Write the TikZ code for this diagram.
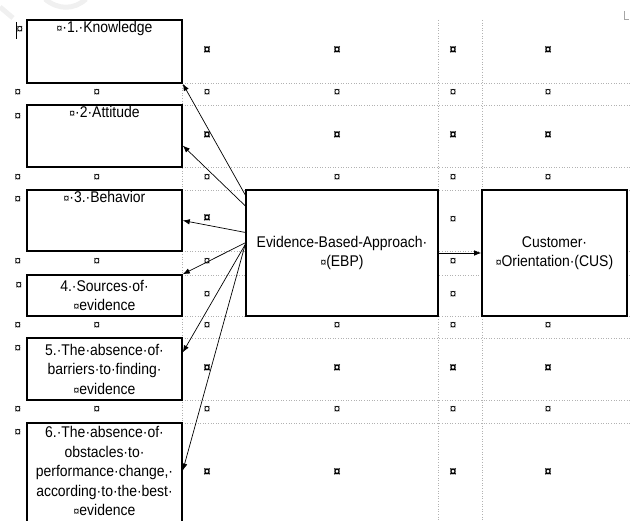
\documentclass[tikz,border=0pt]{standalone}
\usepackage{fontspec}
\setmainfont[FakeStretch=0.9]{Liberation Sans}
\usetikzlibrary{positioning}
\usetikzlibrary{arrows.meta}

\newcommand\cellmk{{\fontsize{11.5}{11.5}\selectfont ¤}}

\begin{document}
\begin{tikzpicture}[x=1pt, y=-1pt,
    font=\fontsize{15.5}{19.5}\selectfont,
    factor/.style = {draw, line width=1.6pt, fill=white, minimum width=155pt, inner sep=0pt, align=center},
    lbl/.style = {anchor=north, align=center, inner sep=0pt, yshift=-2pt},
    gridln/.style = {draw=gray!60, dotted, line width=0.6pt},
    endcell/.style = {font=\fontsize{13}{13}\selectfont, inner sep=0pt},
    endrow/.style = {font=\bfseries\fontsize{14}{14}\selectfont, inner sep=0pt},
    link/.style = {-{Latex[length=7pt,width=5.5pt]}, line width=0.7pt},
    ]
    \useasboundingbox (0,0) rectangle (631,521);

    % faint watermark and page marks
    \draw[gray!12, line width=5pt] (0,7) -- (13,18);
    \draw[gray!12, line width=5pt] (45,-1) .. controls (58,10) and (74,10) .. (86,-1);
    \draw[line width=0.8pt] (16,22) -- (16,39);
    \draw[gray!70, line width=0.5pt] (624,11) -- (624,19) -- (629,19);

    % table grid
    \foreach \y in {83,105,167,190,251,275,316,338,400,423}
      \draw[gridln] (182,\y) -- (631,\y);
    \foreach \x in {182,438,482}
      \draw[gridln] (\x,20) -- (\x,521);

    % end-of-cell marks
    \foreach \y in {93,178,326,410}
      \foreach \x in {18,97,207,337,453,548}
        \node[endcell] (c\x-\y) at (\x,\y) {¤};
    \foreach \x in {18,97,207,453}
      \node[endcell] (c\x-262) at (\x,262) {¤};
    \foreach \x/\y in {20/30,18/117,18/200,19/286,18/349,18/433,453/220,453/295,207/295}
      \node[endcell] (c\x-\y) at (\x,\y) {¤};
    \foreach \y in {50,135,368,472}
      \foreach \x in {207,337,453,548}
        \node[endrow] (r\x-\y) at (\x,\y) {¤};
    \node[endrow] (r207-218) at (207,218) {¤};

    % factors
    \node[factor, minimum height=63pt, label={[lbl]north:{\cellmk·1.·Knowledge}}] (know) at (104.5,51.5) {};
    \node[factor, minimum height=62pt, label={[lbl]north:{\cellmk·2·Attitude}}] (att) at (104.5,136) {};
    \node[factor, minimum height=61pt, label={[lbl]north:{\cellmk·3.·Behavior}}] (beh) at (104.5,220.5) {};
    \node[factor, minimum height=41pt] (src) at (104.5,295.5) {4.·Sources·of·\\\cellmk evidence};
    \node[factor, minimum height=62pt] (barr) at (104.5,369) {5.·The·absence·of·\\barriers·to·finding·\\\cellmk evidence};
    \node[factor, minimum height=117pt, label={[lbl, yshift=-2pt]north:{6.·The·absence·of·\\obstacles·to·\\performance·change,·\\according·to·the·best·\\\cellmk evidence}}] (obst) at (104.5,481.5) {};

    \node[factor, minimum width=192pt, minimum height=126pt] (ebp) at (342,253) {Evidence-Based-Approach·\\\cellmk(EBP)};
    \node[factor, minimum width=145pt, minimum height=126pt] (cus) at (554.5,253) {Customer·\\\cellmk Orientation·(CUS)};

    % links
    \draw[link] (ebp.149) -- (know.south east);
    \draw[link] (ebp.154) -- (att.-7);
    \draw[link] (ebp.168) -- (beh.east);
    \draw[link] (ebp.174) -- (src.north east);
    \draw[link] (ebp.175) -- (barr.12);
    \draw[link] (ebp.175) -- (obst.8);
    \draw[link] (ebp.east) -- (cus.west);

  \end{tikzpicture}
\end{document}
